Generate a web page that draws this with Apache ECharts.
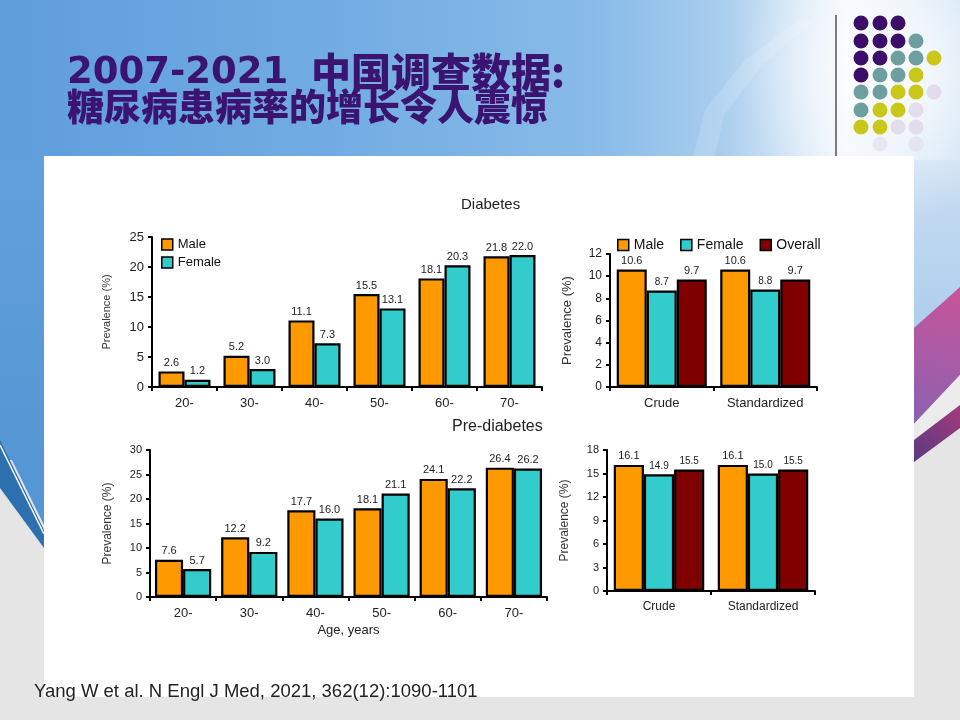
<!DOCTYPE html>
<html><head><meta charset="utf-8">
<script src="https://cdn.jsdelivr.net/npm/echarts@6/dist/echarts.min.js"></script>
<style>html,body{margin:0;padding:0;background:#e6e6e6}#c{width:960px;height:720px}</style>
</head><body><div id="c"></div>
<script>
// ---------- data ----------
const ageGroups = ['20-', '30-', '40-', '50-', '60-', '70-'];
const rateTypes = ['Crude', 'Standardized'];
const diabMale = [2.6, 5.2, 11.1, 15.5, 18.1, 21.8];
const diabFemale = [1.2, 3.0, 7.3, 13.1, 20.3, 22.0];
const diabOverallMale = [10.6, 10.6];
const diabOverallFemale = [8.7, 8.8];
const diabOverallAll = [9.7, 9.7];
const preMale = [7.6, 12.2, 17.7, 18.1, 24.1, 26.4];
const preFemale = [5.7, 9.2, 16.0, 21.1, 22.2, 26.2];
const preOverallMale = [16.1, 16.1];
const preOverallFemale = [14.9, 15.0];
const preOverallAll = [15.5, 15.5];
const titleYears = '2007-2021';
const titleLine1 = '中国调查数据:';
const titleLine2 = '糖尿病患病率的增长令人震惊';
const citation = 'Yang W et al. N Engl J Med, 2021, 362(12):1090-1101';

// ---------- styles ----------
const C_MALE = '#ff9900', C_FEMALE = '#33cccc', C_ALL = '#800000';
const FONT = "'Liberation Sans', Arial, sans-serif";
const TITLE_C = '#3a1470';

function xAx(gi, data, size, name) {
  const a = {
    type: 'category', gridIndex: gi, data: data,
    axisLine: {show: true, lineStyle: {color: '#000', width: 2}},
    axisTick: {show: true, length: 4, lineStyle: {color: '#000', width: 2}},
    axisLabel: {color: '#222', fontSize: size, fontFamily: FONT, margin: 10},
    splitLine: {show: false}
  };
  if (name) {
    a.name = name; a.nameLocation = 'middle'; a.nameGap = 27;
    a.nameTextStyle = {color: '#222', fontSize: 13, fontFamily: FONT};
  }
  return a;
}
function yAx(gi, max, interval, size, nameSize, nameGap) {
  return {
    type: 'value', gridIndex: gi, min: 0, max: max, interval: interval,
    name: 'Prevalence (%)', nameLocation: 'middle', nameRotate: 90, nameGap: nameGap,
    nameTextStyle: {color: '#333', fontSize: nameSize, fontFamily: FONT},
    axisLine: {show: true, lineStyle: {color: '#000', width: 2}},
    axisTick: {show: true, length: 4, lineStyle: {color: '#000', width: 2}},
    axisLabel: {color: '#222', fontSize: size, fontFamily: FONT, margin: 8},
    splitLine: {show: false}
  };
}
function bar(name, gi, data, color, gapCat, lblSize) {
  return {
    type: 'bar', name: name, xAxisIndex: gi, yAxisIndex: gi, data: data,
    barGap: '0%', barCategoryGap: gapCat,
    itemStyle: {color: color, borderColor: '#000', borderWidth: 2.2},
    label: {show: true, position: 'top', distance: 3, fontSize: lblSize, color: '#222',
      fontFamily: FONT, formatter: p => p.value.toFixed(1)},
    emphasis: {disabled: true}
  };
}

// ---------- decoration ----------
const deco = [];
deco.push({type: 'rect', z: -10, shape: {x: 0, y: 0, width: 960, height: 720}, style: {fill: '#e5e5e5'}, silent: true});
deco.push({type: 'rect', z: -9, shape: {x: 0, y: 0, width: 960, height: 170}, silent: true,
  style: {fill: new echarts.graphic.LinearGradient(0, 0, 1, 0, [
    {offset: 0, color: '#5f9ddb'}, {offset: 0.35, color: '#72ace3'}, {offset: 0.62, color: '#88bbe8'},
    {offset: 0.75, color: '#a9cdee'}, {offset: 0.88, color: '#f2f7fc'}, {offset: 1, color: '#cfe2f4'}])}});
deco.push({type: 'circle', z: -8, shape: {cx: 890, cy: 70, r: 150}, silent: true,
  style: {fill: new echarts.graphic.RadialGradient(0.5, 0.5, 0.5, [
    {offset: 0, color: 'rgba(255,255,255,0.9)'}, {offset: 1, color: 'rgba(255,255,255,0)'}])}});
deco.push({type: 'polygon', z: -8, silent: true,
  shape: {points: [[690, 170], [705, 110], [745, 60], [800, 20], [815, 20], [762, 65], [724, 115], [712, 170]]},
  style: {fill: 'rgba(255,255,255,0.15)'}});
// left strip
deco.push({type: 'rect', z: -9, shape: {x: 0, y: 160, width: 44, height: 300}, silent: true,
  style: {fill: new echarts.graphic.LinearGradient(0, 0, 0, 1, [
    {offset: 0, color: '#62a0dc'}, {offset: 1, color: '#5596d4'}])}});
deco.push({type: 'polygon', z: -9, silent: true, shape: {points: [[0, 455], [44, 455], [44, 525], [0, 436]]},
  style: {fill: '#5596d4'}});
deco.push({type: 'polygon', z: -9, silent: true, shape: {points: [[0, 440], [44, 530], [44, 548], [0, 488]]},
  style: {fill: '#2c70b0'}});
deco.push({type: 'line', z: -8, silent: true, shape: {x1: 0, y1: 445, x2: 44, y2: 534}, style: {stroke: '#ffffff', lineWidth: 1.5}});
// right strip
deco.push({type: 'rect', z: -9, shape: {x: 914, y: 160, width: 46, height: 200}, silent: true,
  style: {fill: new echarts.graphic.LinearGradient(0, 0, 0, 1, [
    {offset: 0, color: '#c9def2'}, {offset: 1, color: '#a8cbec'}])}});
deco.push({type: 'polygon', z: -8, silent: true, shape: {points: [[914, 328], [960, 287], [960, 375], [914, 424]]},
  style: {fill: new echarts.graphic.LinearGradient(1, 0, 0, 1, [
    {offset: 0, color: '#c8549a'}, {offset: 1, color: '#8a62b0'}])}});
deco.push({type: 'polygon', z: -8, silent: true, shape: {points: [[914, 424], [960, 375], [960, 405], [914, 440]]},
  style: {fill: '#ececec'}});
deco.push({type: 'polygon', z: -8, silent: true, shape: {points: [[914, 440], [960, 405], [960, 428], [914, 462]]},
  style: {fill: new echarts.graphic.LinearGradient(1, 0, 0, 1, [
    {offset: 0, color: '#a23a7c'}, {offset: 1, color: '#5a3a80'}])}});
// white panel
deco.push({type: 'rect', z: -5, shape: {x: 44, y: 156, width: 870, height: 541}, silent: true, style: {fill: '#ffffff'}});
// vertical line
deco.push({type: 'line', z: -4, silent: true, shape: {x1: 836, y1: 15, x2: 836, y2: 156}, style: {stroke: '#000', lineWidth: 1}});
// dots
const dotCols = [861, 880, 898, 916, 934];
const dotRows = [23, 41, 58, 75, 92, 110, 127, 144];
const dotPattern = ['PPP', 'PPPT', 'PPTTY', 'PTTY', 'TTYYL', 'TYYL', 'YYLL', '.L.L'];
const dotColor = {P: '#3c0e6a', T: '#6e9fa0', Y: '#c9c81a', L: 'rgba(222,214,232,0.8)'};
dotPattern.forEach((row, r) => {
  row.split('').forEach((ch, c) => {
    if (ch === '.') return;
    deco.push({type: 'circle', z: -4, silent: true, shape: {cx: dotCols[c], cy: dotRows[r], r: 7.5},
      style: {fill: r === 7 ? 'rgba(222,214,232,0.5)' : dotColor[ch]}});
  });
});
// titles
deco.push({type: 'text', z: 5, left: 67, top: 55, silent: true,
  style: {text: titleYears, fill: TITLE_C, font: "bold 37px 'DejaVu Sans', sans-serif"}});
deco.push({type: 'text', z: 5, left: 311, top: 52, silent: true,
  style: {text: titleLine1, fill: TITLE_C, font: "900 40px 'Noto Sans CJK SC', sans-serif"}});
deco.push({type: 'text', z: 5, left: 67, top: 88, silent: true,
  style: {text: titleLine2, fill: TITLE_C, font: "900 37px 'Noto Sans CJK SC', sans-serif"}});
deco.push({type: 'text', z: 5, left: 461, top: 197, silent: true,
  style: {text: 'Diabetes', fill: '#222', font: "15px " + FONT}});
deco.push({type: 'text', z: 5, left: 452, top: 419, silent: true,
  style: {text: 'Pre-diabetes', fill: '#222', font: "16px " + FONT}});
deco.push({type: 'text', z: 5, left: 34, top: 682, silent: true,
  style: {text: citation, fill: '#222', font: "18.5px " + FONT}});

const chart = echarts.init(document.getElementById('c'));
chart.setOption({
  animation: false,
  textStyle: {fontFamily: FONT},
  graphic: {elements: deco},
  grid: [
    {left: 152, top: 237, width: 390, height: 150},
    {left: 610, top: 254, width: 207, height: 133},
    {left: 150, top: 450, width: 397, height: 147},
    {left: 607, top: 450, width: 208, height: 141}
  ],
  legend: [
    {data: ['Male', 'Female'], orient: 'vertical', left: 156, top: 233, icon: 'rect', itemWidth: 11, itemHeight: 11, itemGap: 5,
      textStyle: {fontSize: 13, color: '#111', fontFamily: FONT}, itemStyle: {borderColor: '#000', borderWidth: 1.5}},
    {data: ['Male', 'Female', 'Overall'], orient: 'horizontal', left: 612, top: 233, icon: 'rect', itemWidth: 11, itemHeight: 11, itemGap: 16,
      textStyle: {fontSize: 14, color: '#111', fontFamily: FONT}, itemStyle: {borderColor: '#000', borderWidth: 1.5}}
  ],
  xAxis: [
    xAx(0, ageGroups, 13), xAx(1, rateTypes, 13), xAx(2, ageGroups, 13, 'Age, years'), xAx(3, rateTypes, 12)
  ],
  yAxis: [
    yAx(0, 25, 5, 13, 11, 40), yAx(1, 12, 2, 12, 13, 36), yAx(2, 30, 5, 11, 12, 36), yAx(3, 18, 3, 11, 12, 36)
  ],
  series: [
    bar('Male', 0, diabMale, C_MALE, '20%', 11),
    bar('Female', 0, diabFemale, C_FEMALE, '20%', 11),
    bar('Male', 1, diabOverallMale, C_MALE, '13%', 11),
    bar('Female', 1, diabOverallFemale, C_FEMALE, '13%', 10),
    bar('Overall', 1, diabOverallAll, C_ALL, '13%', 11),
    bar('Male', 2, preMale, C_MALE, '15%', 11),
    bar('Female', 2, preFemale, C_FEMALE, '15%', 11),
    bar('Male', 3, preOverallMale, C_MALE, '13%', 11),
    bar('Female', 3, preOverallFemale, C_FEMALE, '13%', 10),
    bar('Overall', 3, preOverallAll, C_ALL, '13%', 10)
  ]
});
</script></body></html>
